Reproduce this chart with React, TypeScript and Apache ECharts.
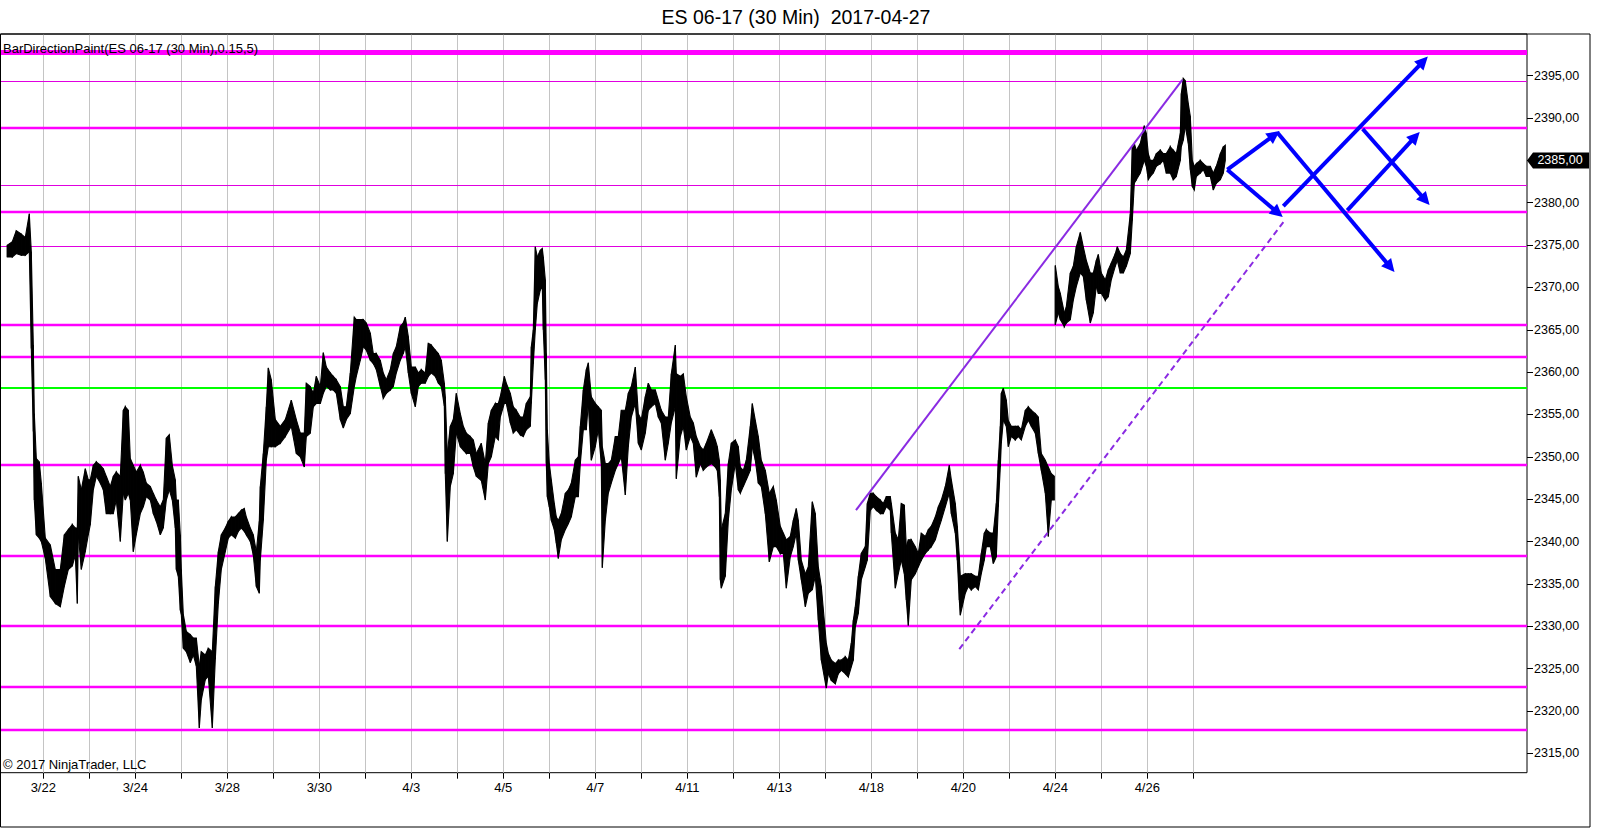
import { useEffect, useRef } from 'react';
import * as echarts from 'echarts';

const FONT = '"Liberation Sans", Arial, Helvetica, sans-serif';

const chartTitle = 'ES 06-17 (30 Min)  2017-04-27';
const indicatorLabel = 'BarDirectionPaint(ES 06-17 (30 Min),0.15,5)';
const copyrightLabel = '© 2017 NinjaTrader, LLC';

// trading sessions (one gridline per session, label on every other one)
const sessionDates = ['3/22', '3/23', '3/24', '3/27', '3/28', '3/29', '3/30', '3/31', '4/3', '4/4', '4/5', '4/6', '4/7',
  '4/10', '4/11', '4/12', '4/13', '4/17', '4/18', '4/19', '4/20', '4/21', '4/24', '4/25', '4/26', '4/27'];
const barsPerSession = 46; // 30-minute bars per session
const yTicks = [2315, 2320, 2325, 2330, 2335, 2340, 2345, 2350, 2355, 2360, 2365, 2370, 2375, 2380, 2385, 2390, 2395];
const lastPrice = 2385;

// price bars (x = 30-min bar number from the 3/22 session open)
const barIndex = [
  -36, -31, -27, -22, -18, -14, -12, -10, -9, -7, -4, -2, 2, 7, 12, 17, 21, 25, 29, 32, 34, 35, 38, 42, 45, 47, 50, 53, 57, 60,
  63, 67, 70, 73, 77, 80, 82, 85, 87, 90, 93, 97, 100, 103, 107, 110, 113, 117, 120, 123, 126, 129, 132, 133, 135, 137, 138, 140, 143, 147,
  150, 153, 156, 158, 162, 165, 169, 172, 175, 178, 182, 185, 188, 192, 195, 198, 201, 203, 207, 210, 213, 216,
  217, 220, 223, 225, 228, 232, 237, 242, 248, 253, 257, 261, 263, 267, 270, 273, 277, 280, 283, 287, 290, 293, 297, 300,
  303, 307, 311, 313, 317, 320, 323, 327, 330, 333, 337, 340, 343, 347, 350, 353, 357, 360, 362, 365, 368, 372, 375, 378,
  382, 385, 388, 392, 395, 398, 401, 402, 404, 407, 410, 413, 417, 420, 423, 427, 430, 433,
  438, 442, 445, 448, 452, 455, 457, 461, 463, 467, 470, 473, 477, 480, 483, 487, 488, 490, 492, 494, 497, 499, 500, 502,
  503, 504, 506, 508, 511, 513, 515, 518, 522, 525, 528, 532, 535, 537, 540, 543, 545, 548, 552, 555, 558, 559, 562, 565,
  568, 572, 575, 578, 582, 585, 588, 592, 595, 598, 602, 605, 608, 612, 615, 618, 622, 625, 628, 632, 633, 637, 640, 643,
  647, 650, 653, 657, 660, 663, 668, 672, 674, 676, 677, 678, 682, 685, 688, 692, 695,
  697, 700, 703, 707, 709, 712, 715, 718, 722, 726, 730, 733, 737, 740, 743, 747, 750, 753, 755, 758, 762, 765, 769, 772,
  775, 778, 783, 785, 788, 792, 795, 798, 802, 805, 808, 810, 812, 815, 818, 822, 824, 827, 830, 833, 837, 840, 843, 847,
  848, 852, 855, 858, 861, 863, 865, 868, 872, 875, 878, 882, 885, 888, 892, 895, 898, 902, 906, 908, 912, 914, 916, 917,
  922, 925, 928, 932, 935, 938, 941, 943, 947, 950, 953, 955, 957, 958, 960, 963, 965, 968, 972, 975, 978, 982, 985, 988,
  992, 995, 998, 1002, 1005, 1008, 1011,
  1012, 1015, 1017, 1021, 1023, 1027, 1030, 1033, 1037, 1040, 1043, 1047, 1050, 1053, 1055, 1058, 1062, 1065, 1068, 1072,
  1074, 1077, 1080, 1083, 1087, 1089, 1091, 1093, 1097, 1101, 1103, 1105, 1107, 1110, 1113, 1117, 1120, 1123, 1127, 1130,
  1133, 1137, 1138, 1140, 1142, 1145, 1147, 1149, 1151, 1153, 1157, 1160, 1163, 1167, 1170, 1173, 1177, 1180, 1182,
];
const barHigh = [
  2375.0, 2375.4, 2376.7, 2376.3, 2375.9, 2378.7, 2374.2, 2363.2, 2355.1, 2349.8, 2349.4, 2346.9, 2340.4, 2339.6, 2336.7, 2336.7, 2340.8, 2341.4, 2342.0, 2341.6, 2341.6, 2347.7, 2346.1, 2348.6, 2347.3, 2347.3, 2349.0, 2349.4, 2349.0, 2348.6,
  2347.7, 2346.5, 2347.7, 2348.2, 2347.7, 2355.5, 2355.9, 2355.5, 2349.8, 2349.0, 2348.2, 2349.0, 2348.2, 2346.9, 2346.5, 2345.7, 2344.9, 2344.1, 2344.9, 2352.2, 2352.6, 2349.0, 2347.3, 2344.9, 2344.9, 2340.8, 2336.7, 2331.4, 2329.4, 2329.0,
  2328.6, 2328.6, 2325.3, 2327.0, 2326.6, 2327.4, 2327.0, 2334.7, 2338.8, 2340.8, 2341.6, 2342.4, 2342.9, 2342.9, 2343.3, 2343.7, 2343.9, 2342.9, 2341.6, 2340.8, 2338.8, 2342.4,
  2346.5, 2350.4, 2355.9, 2360.5, 2359.1, 2354.4, 2353.6, 2354.4, 2356.7, 2354.4, 2352.8, 2352.8, 2358.7, 2358.3, 2357.5, 2359.5, 2358.3, 2362.3, 2360.6, 2359.9, 2359.5, 2359.1, 2358.3, 2355.9,
  2355.9, 2359.9, 2366.5, 2366.2, 2366.2, 2366.2, 2365.8, 2364.6, 2362.2, 2362.2, 2361.4, 2359.9, 2359.1, 2360.3, 2362.2, 2363.0, 2365.4, 2365.8, 2366.5, 2364.2, 2360.6, 2360.6, 2359.9, 2360.3,
  2359.9, 2363.4, 2363.2, 2362.6, 2362.2, 2361.4, 2358.7, 2357.1, 2350.4, 2353.6, 2354.4, 2357.5, 2355.1, 2353.6, 2352.8, 2352.4, 2352.0, 2350.4,
  2351.6, 2349.2, 2354.0, 2355.5, 2356.3, 2356.3, 2357.1, 2359.5, 2358.7, 2357.5, 2355.9, 2355.5, 2354.7, 2354.7, 2356.3, 2357.1, 2363.0, 2365.0, 2374.8, 2373.6, 2374.4, 2374.6, 2373.6, 2370.9,
  2362.2, 2353.2, 2349.2, 2347.3, 2344.5, 2342.9, 2342.5, 2343.3, 2345.7, 2346.1, 2346.9, 2349.6, 2350.0, 2353.6, 2357.9, 2360.3, 2361.1, 2357.1, 2356.3, 2355.9, 2355.5, 2351.2, 2349.2, 2349.2,
  2349.6, 2352.4, 2352.4, 2355.5, 2355.5, 2357.5, 2358.3, 2360.6, 2355.1, 2354.4, 2357.1, 2358.7, 2357.9, 2357.9, 2356.7, 2355.5, 2354.7, 2354.7, 2359.8, 2363.2, 2359.8, 2359.5, 2359.8, 2357.1,
  2354.7, 2354.0, 2352.4, 2351.2, 2350.8, 2351.6, 2353.2, 2352.0, 2351.2, 2349.6, 2347.3, 2341.4, 2343.3, 2349.2, 2351.6, 2352.0, 2351.2,
  2348.8, 2348.4, 2349.6, 2353.6, 2356.3, 2354.3, 2352.4, 2349.6, 2348.4, 2345.7, 2346.5, 2344.9, 2341.8, 2341.0, 2340.2, 2340.6, 2342.5, 2343.9, 2342.5, 2337.8, 2336.2, 2337.0, 2344.7, 2343.3,
  2337.0, 2334.7, 2328.0, 2326.8, 2326.0, 2325.6, 2326.0, 2326.0, 2326.4, 2326.0, 2328.0, 2330.7, 2332.3, 2335.9, 2338.6, 2339.4, 2344.5, 2345.7, 2345.7, 2345.3, 2344.9, 2344.5, 2345.3, 2345.3,
  2344.5, 2341.0, 2340.2, 2344.5, 2344.3, 2339.4, 2340.2, 2340.2, 2339.4, 2338.6, 2341.0, 2340.6, 2341.4, 2341.8, 2342.9, 2344.1, 2344.9, 2346.5, 2349.0, 2347.3, 2344.5, 2341.8, 2338.2, 2335.9,
  2336.2, 2336.2, 2336.2, 2335.9, 2335.9, 2338.6, 2341.0, 2341.4, 2341.0, 2341.0, 2344.5, 2349.6, 2353.6, 2357.5, 2358.1, 2356.7, 2354.3, 2353.6, 2353.6, 2353.6, 2353.2, 2355.5, 2355.9, 2355.5,
  2355.1, 2354.7, 2350.4, 2349.6, 2348.8, 2348.0, 2347.7,
  2372.6, 2370.1, 2369.3, 2367.0, 2367.7, 2371.7, 2372.5, 2374.8, 2376.5, 2374.8, 2373.2, 2371.7, 2371.7, 2373.2, 2373.9, 2371.7, 2370.9, 2372.1, 2372.9, 2374.0,
  2374.8, 2374.0, 2373.6, 2374.4, 2378.7, 2386.6, 2387.0, 2386.2, 2387.0, 2389.1, 2388.2, 2385.8, 2385.0, 2385.0, 2385.8, 2386.2, 2385.8, 2385.8, 2386.6, 2386.2,
  2385.8, 2388.2, 2392.9, 2394.7, 2394.4, 2391.7, 2390.2, 2385.0, 2384.3, 2384.6, 2385.0, 2384.6, 2384.3, 2384.3, 2383.5, 2384.3, 2385.8, 2386.6, 2386.8,
];
const barLow = [
  2373.6, 2373.6, 2374.0, 2373.8, 2373.8, 2374.2, 2362.8, 2353.0, 2344.9, 2340.8, 2340.4, 2340.0, 2338.0, 2333.5, 2332.7, 2332.3, 2334.7, 2336.7, 2337.1, 2338.4, 2332.7, 2340.8, 2336.7, 2338.8, 2340.8, 2342.0, 2346.1, 2347.7, 2346.9, 2346.1,
  2343.3, 2343.3, 2343.3, 2344.9, 2340.0, 2345.7, 2344.9, 2345.7, 2344.9, 2338.8, 2340.8, 2343.3, 2344.1, 2345.3, 2344.9, 2343.3, 2342.4, 2340.8, 2341.6, 2344.9, 2346.1, 2344.9, 2341.6, 2336.7, 2335.9, 2331.9, 2331.4, 2327.4, 2327.0, 2325.7,
  2326.6, 2325.3, 2318.0, 2321.3, 2323.7, 2324.1, 2318.0, 2326.1, 2332.7, 2336.7, 2338.8, 2340.4, 2340.8, 2340.4, 2341.2, 2341.6, 2341.2, 2340.8, 2340.0, 2338.4, 2334.7, 2333.9,
  2337.8, 2342.5, 2349.6, 2351.2, 2351.2, 2351.2, 2351.6, 2352.4, 2353.6, 2350.4, 2350.0, 2348.8, 2352.4, 2352.8, 2355.9, 2356.3, 2356.3, 2357.5, 2358.3, 2357.9, 2357.9, 2357.5, 2354.4, 2353.4,
  2354.4, 2355.1, 2358.3, 2359.5, 2361.4, 2363.0, 2362.6, 2361.4, 2361.0, 2360.3, 2358.3, 2356.9, 2357.5, 2357.9, 2358.3, 2359.9, 2361.4, 2362.2, 2363.0, 2359.9, 2357.5, 2355.9, 2358.3, 2358.7,
  2358.7, 2359.5, 2359.9, 2359.5, 2358.7, 2358.3, 2356.0, 2348.0, 2340.0, 2346.5, 2348.0, 2352.8, 2351.2, 2350.8, 2350.4, 2350.4, 2348.8, 2347.7,
  2347.2, 2344.9, 2349.2, 2350.0, 2352.4, 2352.0, 2354.7, 2356.3, 2356.3, 2354.0, 2352.8, 2353.2, 2352.6, 2352.4, 2353.2, 2353.6, 2356.3, 2361.0, 2365.0, 2368.1, 2369.7, 2370.0, 2365.0, 2359.1,
  2349.2, 2345.3, 2344.1, 2342.5, 2341.4, 2339.8, 2338.0, 2340.2, 2341.4, 2342.1, 2342.9, 2345.3, 2345.3, 2349.2, 2353.2, 2353.2, 2356.3, 2349.6, 2351.2, 2353.2, 2349.2, 2336.9, 2342.5, 2345.7,
  2346.9, 2348.4, 2349.2, 2350.0, 2345.5, 2351.2, 2354.7, 2356.3, 2351.6, 2350.8, 2352.8, 2355.5, 2355.9, 2356.3, 2354.7, 2354.0, 2349.6, 2351.6, 2354.0, 2355.9, 2347.4, 2352.4, 2353.6, 2350.8,
  2352.4, 2351.6, 2347.6, 2349.2, 2348.4, 2348.8, 2349.2, 2348.8, 2348.4, 2345.3, 2335.5, 2334.5, 2335.9, 2342.5, 2346.1, 2349.2, 2346.1,
  2345.7, 2346.5, 2347.3, 2348.4, 2351.2, 2349.6, 2346.9, 2346.5, 2343.3, 2337.6, 2339.4, 2339.4, 2338.6, 2338.6, 2334.5, 2338.2, 2339.4, 2341.0, 2337.8, 2335.5, 2332.3, 2333.9, 2334.3, 2335.9,
  2330.7, 2326.0, 2322.7, 2324.4, 2323.6, 2323.2, 2324.4, 2324.8, 2324.4, 2324.0, 2325.2, 2326.0, 2329.9, 2331.5, 2335.5, 2337.0, 2337.8, 2343.7, 2344.1, 2343.7, 2343.3, 2343.3, 2344.1, 2343.7,
  2341.0, 2334.5, 2336.2, 2337.8, 2336.2, 2333.1, 2330.1, 2335.5, 2336.2, 2337.0, 2337.8, 2338.6, 2339.0, 2339.4, 2340.2, 2341.4, 2342.5, 2344.1, 2345.7, 2343.3, 2341.0, 2337.8, 2333.1, 2331.3,
  2333.9, 2334.7, 2334.3, 2334.7, 2334.3, 2336.2, 2337.8, 2339.4, 2339.4, 2337.4, 2338.2, 2344.1, 2348.8, 2351.6, 2354.3, 2353.6, 2351.2, 2352.4, 2352.0, 2352.4, 2352.0, 2353.6, 2354.3, 2353.6,
  2352.8, 2350.4, 2348.4, 2345.7, 2340.6, 2344.9, 2344.9,
  2365.6, 2367.0, 2366.2, 2365.4, 2365.8, 2366.2, 2368.5, 2370.1, 2371.7, 2371.3, 2368.5, 2365.8, 2367.0, 2370.1, 2369.3, 2369.3, 2368.5, 2368.9, 2370.9, 2372.5,
  2373.2, 2371.7, 2371.7, 2372.5, 2374.0, 2377.9, 2382.3, 2382.7, 2383.5, 2385.0, 2384.3, 2382.7, 2383.1, 2383.5, 2384.3, 2384.6, 2385.0, 2383.5, 2383.5, 2382.7,
  2383.1, 2385.0, 2386.6, 2387.4, 2389.0, 2387.0, 2383.9, 2381.9, 2381.5, 2383.1, 2383.5, 2383.9, 2383.1, 2383.1, 2381.5, 2382.3, 2382.7, 2383.5, 2385.0,
];
// weekend gap: bar that opens a new, gapped session
const gapBefore = [1012];

// horizontal price levels
const heavyLevels = [2397.8];
const majorLevels = [2388.8, 2378.9, 2365.6, 2361.8, 2349.1, 2338.3, 2330.1, 2322.8, 2317.8];
const minorLevels = [2394.4, 2382.1, 2374.9];
const pivotLevels = [2358.1];

// trend channel [bar, price]
const trendSolid = [[812.7, 2343.7], [1139, 2394.5]];
const trendDashed = [[916, 2327.3], [1240.7, 2377.8]];

// projection arrows [bar, price]
const arrowStart = [[1184, 2383.9], [1184, 2383.9], [1234, 2388.3], [1240, 2379.6], [1319.4, 2388.7], [1304, 2379.1]];
const arrowEnd = [[1231, 2388.0], [1234.5, 2378.8], [1347, 2372.4], [1380, 2396.7], [1382, 2380.3], [1372, 2387.8]];

// axis extents (plot edges)
const X_MIN = -42.8;
const X_MAX = 1483.7;
const Y_MIN = 2312.71;
const Y_MAX = 2399.92;

const fmtPrice = (v: number) => v.toFixed(2).replace('.', ',');

function buildOption() {
  const sessionStarts = sessionDates.map((_, i) => i * barsPerSession);
  const labelStarts = sessionStarts.filter((_, i) => i % 2 === 0);
  const labelMap: Record<string, string> = {};
  sessionStarts.forEach((v, i) => { labelMap[String(v)] = sessionDates[i]; });

  const priceRows = barIndex.map((b, i) => {
    const p = i === 0 || gapBefore.includes(b) ? i : i - 1;
    return [b, barLow[i], barHigh[i], barIndex[p], barLow[p], barHigh[p]];
  });

  const levelLines = [
    ...sessionStarts.map((v) => ({ xAxis: v, lineStyle: { color: '#c4c4c4', width: 1, type: 'solid' } })),
    ...minorLevels.map((v) => ({ yAxis: v, lineStyle: { color: '#e000e0', width: 1.2, type: 'solid' } })),
    ...majorLevels.map((v) => ({ yAxis: v, lineStyle: { color: '#ff00ff', width: 2.4, type: 'solid' } })),
    ...pivotLevels.map((v) => ({ yAxis: v, lineStyle: { color: '#00ff00', width: 2, type: 'solid' } })),
    ...heavyLevels.map((v) => ({ yAxis: v, lineStyle: { color: '#ff00ff', width: 5, type: 'solid' } })),
  ];

  const overlayLines: any[] = [
    [
      { coord: trendSolid[0], symbol: 'none', lineStyle: { color: '#8a2be2', width: 2, type: 'solid' } },
      { coord: trendSolid[1], symbol: 'none' },
    ],
    [
      { coord: trendDashed[0], symbol: 'none', lineStyle: { color: '#8a2be2', width: 2, type: [6, 4] } },
      { coord: trendDashed[1], symbol: 'none' },
    ],
    ...arrowStart.map((s, i) => [
      { coord: s, symbol: 'none', lineStyle: { color: '#0000ff', width: 4, type: 'solid' } },
      { coord: arrowEnd[i], symbol: 'triangle', symbolSize: [13, 13] },
    ]),
  ];

  return {
    animation: false,
    backgroundColor: '#ffffff',
    textStyle: { fontFamily: FONT },
    grid: {
      left: 0.5, top: 34, width: 1526.5, height: 738.7,
      show: true, borderColor: '#000', borderWidth: 1, backgroundColor: 'transparent',
      containLabel: false, outerBoundsMode: 'none',
    },
    xAxis: {
      type: 'value', min: X_MIN, max: X_MAX, position: 'bottom',
      axisLine: { show: false, onZero: false },
      splitLine: { show: false },
      axisTick: { show: true, customValues: sessionStarts, length: 6, lineStyle: { color: '#000', width: 1 } },
      axisLabel: {
        show: true, customValues: labelStarts, formatter: (v: number) => labelMap[String(v)] || '',
        color: '#000', fontSize: 13, fontFamily: FONT, margin: 8,
      },
    },
    yAxis: {
      type: 'value', position: 'right', min: Y_MIN, max: Y_MAX,
      axisLine: { show: false, onZero: false },
      splitLine: { show: false },
      axisTick: { show: true, customValues: yTicks, length: 6, lineStyle: { color: '#000', width: 1 } },
      axisLabel: {
        show: true, customValues: yTicks.filter((v) => v !== lastPrice), formatter: (v: number) => fmtPrice(v),
        color: '#000', fontSize: 12.5, fontFamily: FONT, margin: 7,
      },
    },
    graphic: [
      {
        type: 'rect', silent: true, z: 100,
        shape: { x: 0.5, y: 34, width: 1589.5, height: 793 },
        style: { fill: 'none', stroke: '#000', lineWidth: 1 },
      },
      {
        type: 'text', silent: true, z: 100, x: 796, y: 17,
        style: { text: chartTitle, fontSize: 19.5, fontFamily: FONT, fill: '#000', align: 'center', verticalAlign: 'middle', textAlign: 'center', textVerticalAlign: 'middle' },
      },
      {
        type: 'text', silent: true, z: 100, x: 3, y: 48,
        style: { text: indicatorLabel, fontSize: 13, fontFamily: FONT, fill: '#000', align: 'left', verticalAlign: 'middle', textAlign: 'left', textVerticalAlign: 'middle' },
      },
      {
        type: 'text', silent: true, z: 100, x: 3, y: 764,
        style: { text: copyrightLabel, fontSize: 13, fontFamily: FONT, fill: '#000', align: 'left', verticalAlign: 'middle', textAlign: 'left', textVerticalAlign: 'middle' },
      },
    ],
    series: [
      {
        type: 'line', name: 'levels', data: [], silent: true, z: 1,
        markLine: { silent: true, z: 1, symbol: ['none', 'none'], label: { show: false }, emphasis: { disabled: true }, animation: false, data: levelLines },
      },
      {
        type: 'custom', name: 'ES 06-17', silent: true, z: 2, clip: true,
        encode: { x: 0, y: [1, 2] },
        data: priceRows,
        renderItem: (_params: any, api: any) => {
          const a = api.coord([api.value(3), api.value(5)]);
          const b = api.coord([api.value(0), api.value(2)]);
          const c = api.coord([api.value(0), api.value(1)]);
          const d = api.coord([api.value(3), api.value(4)]);
          return {
            type: 'polygon',
            shape: { points: [a, b, c, d] },
            style: { fill: '#000', stroke: '#000', lineWidth: 1.1 },
          };
        },
      },
      {
        type: 'line', name: 'drawings', data: [], silent: true, z: 5,
        markLine: { silent: true, z: 5, label: { show: false }, emphasis: { disabled: true }, animation: false, data: overlayLines },
        markPoint: {
          silent: true, z: 6, animation: false,
          data: [{
            coord: [X_MAX, lastPrice],
            symbol: 'path://M0,8L6,0L62,0L62,16L6,16Z',
            symbolSize: [62, 16],
            symbolOffset: [31, 0],
            itemStyle: { color: '#000' },
            label: { show: true, position: 'inside', formatter: fmtPrice(lastPrice), color: '#fff', fontSize: 12.5, fontFamily: FONT, offset: [2, 0] },
          }],
        },
      },
    ],
  };
}

export default function App() {
  const ref = useRef<HTMLDivElement>(null);
  useEffect(() => {
    if (!ref.current) return;
    const chart = echarts.init(ref.current, undefined, { renderer: 'svg', width: 1600, height: 828 });
    chart.setOption(buildOption() as any);
    return () => chart.dispose();
  }, []);
  return (
    <div
      ref={ref}
      style={{ position: 'absolute', left: 0, top: 0, width: 1600, height: 828, background: '#fff' }}
    />
  );
}
